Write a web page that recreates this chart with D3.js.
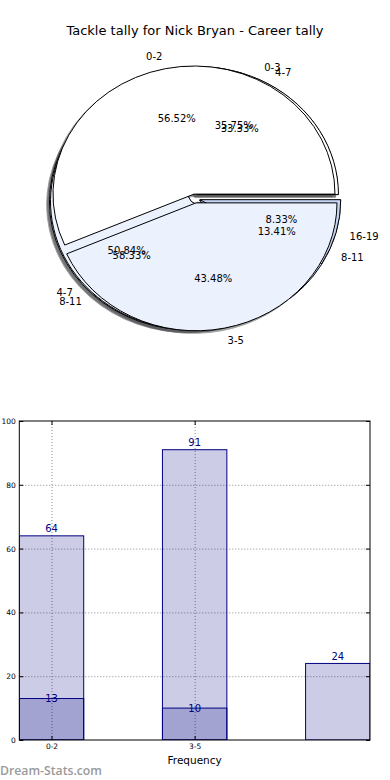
<!DOCTYPE html>
<html><head><meta charset="utf-8">
<script src="https://cdn.jsdelivr.net/npm/d3@7"></script>
<style>
html,body{margin:0;padding:0;background:#fff;}
svg{display:block;font-family:"DejaVu Sans",sans-serif;}
</style></head>
<body>
<script>
// ---- data ----
const title = "Tackle tally for Nick Bryan - Career tally";
// pie layers (drawn bottom to top)
const pieBLabels = ["0-3", "4-7", "8-11"];
const pieBValues = [64, 91, 24];
const pieCLabels = ["4-7", "8-11", "16-19"];
const pieCValues = [4, 7, 1];
const pieALabels = ["0-2", "3-5"];
const pieAValues = [13, 10];
const sliceColors = ["#ffffff", "#ebf1fd", "#c5d5f5"];

// bar chart
const barCategories = ["0-2", "3-5", ""];
const barSeries1 = [64, 91, 24];
const barSeries2 = [13, 10];
const yTicks = [0, 20, 40, 60, 80, 100];
const xLabel = "Frequency";
const watermark = "Dream-Stats.com";

const W = 390, H = 780;
const svg = d3.select("body").append("svg").attr("width", W).attr("height", H);

svg.append("text").attr("x", 195).attr("y", 30).attr("text-anchor", "middle")
  .attr("dominant-baseline", "central").attr("font-size", 13).attr("fill", "#000").text(title);

// ---- pie ----
const cx = 195, cy = 198.5, rx = 141, ry = 128;
const explode = 0.035, shadowOff = 0.02;
const layers = [
  {labels: pieBLabels, values: pieBValues},
  {labels: pieCLabels, values: pieCValues},
  {labels: pieALabels, values: pieAValues}
];
const pieGen = d3.pie().sort(null).startAngle(0).endAngle(2 * Math.PI);
const arcGen = d3.arc().innerRadius(0).outerRadius(1);
layers.forEach(L => {
  L.wedges = pieGen(L.values).map((p, i) => {
    const t1 = p.startAngle, t2 = p.endAngle; // CCW from east
    const tm = (t1 + t2) / 2;
    return {
      i, label: L.labels[i], frac: p.value / d3.sum(L.values),
      d: arcGen({startAngle: Math.PI / 2 - t2, endAngle: Math.PI / 2 - t1}),
      ox: explode * Math.cos(tm), oy: -explode * Math.sin(tm), tm
    };
  });
});
const pg = svg.append("g").attr("transform", `translate(${cx},${cy}) scale(${rx},${ry})`);
// shadows
layers.forEach(L => L.wedges.forEach(w => {
  const c = d3.rgb(sliceColors[w.i]);
  const sc = d3.rgb(c.r * 0.3, c.g * 0.3, c.b * 0.3);
  pg.append("path").attr("d", w.d)
    .attr("transform", `translate(${w.ox - shadowOff},${w.oy + shadowOff})`)
    .attr("fill", sc).attr("stroke", sc).attr("stroke-width", 1)
    .attr("vector-effect", "non-scaling-stroke").attr("opacity", 0.5);
}));
// wedges
layers.forEach(L => L.wedges.forEach(w => {
  pg.append("path").attr("d", w.d)
    .attr("transform", `translate(${w.ox},${w.oy})`)
    .attr("fill", sliceColors[w.i]).attr("stroke", "#000").attr("stroke-width", 1)
    .attr("vector-effect", "non-scaling-stroke");
}));
// texts
layers.forEach(L => L.wedges.forEach(w => {
  const c = Math.cos(w.tm), s = Math.sin(w.tm);
  const lx = cx + (explode + 1.1) * rx * c, ly = cy - (explode + 1.1) * ry * s;
  svg.append("text").attr("x", lx).attr("y", ly)
    .attr("text-anchor", lx > cx ? "start" : "end").attr("dominant-baseline", "central")
    .attr("font-size", 10).attr("fill", "#000").text(w.label);
  const px = cx + (explode + 0.6) * rx * c, py = cy - (explode + 0.6) * ry * s;
  svg.append("text").attr("x", px).attr("y", py)
    .attr("text-anchor", "middle").attr("dominant-baseline", "central")
    .attr("font-size", 10).attr("fill", "#000").text((w.frac * 100).toFixed(2) + "%");
}));

// ---- bar chart ----
const bl = 19.3, br = 370, bt = 421, bb = 740;
const barW = 0.45;
const x = d3.scaleLinear().domain([-barW / 2, barCategories.length - 1 + barW / 2]).range([bl, br]);
const y = d3.scaleLinear().domain([0, 100]).range([bb, bt]);
const xTickIdx = barCategories.map((c, i) => i).filter(i => barCategories[i] !== "");
const bg = svg.append("g");
const navy = "#000080";

// grid
bg.append("g").attr("transform", `translate(0,${bb})`)
  .call(d3.axisBottom(x).tickValues(xTickIdx).tickSize(-(bb - bt)).tickFormat(""))
  .call(g => g.select(".domain").remove())
  .call(g => g.selectAll("line").attr("stroke", "#8a8a8a").attr("stroke-dasharray", "1,2"));
bg.append("g").attr("transform", `translate(${bl},0)`)
  .call(d3.axisLeft(y).tickValues(yTicks.slice(1, -1)).tickSize(-(br - bl)).tickFormat(""))
  .call(g => g.select(".domain").remove())
  .call(g => g.selectAll("line").attr("stroke", "#8a8a8a").attr("stroke-dasharray", "1,2"));

const clip = svg.append("defs").append("clipPath").attr("id", "plotclip")
  .append("rect").attr("x", bl).attr("y", bt).attr("width", br - bl).attr("height", bb - bt);
const bars = bg.append("g").attr("clip-path", "url(#plotclip)");
bars.selectAll("rect.s1").data(barSeries1).join("rect").attr("class", "s1")
  .attr("x", (d, i) => x(i - barW / 2)).attr("width", (d, i) => x(i + barW / 2) - x(i - barW / 2))
  .attr("y", d => y(d)).attr("height", d => y(0) - y(d))
  .attr("fill", navy).attr("fill-opacity", 0.2).attr("stroke", navy).attr("stroke-width", 1);
bars.selectAll("rect.s2").data(barSeries2).join("rect").attr("class", "s2")
  .attr("x", (d, i) => x(i - barW / 2)).attr("width", (d, i) => x(i + barW / 2) - x(i - barW / 2))
  .attr("y", d => y(d)).attr("height", d => y(0) - y(d))
  .attr("fill", navy).attr("fill-opacity", 0.2).attr("stroke", navy).attr("stroke-width", 1);

bg.selectAll("text.v1").data(barSeries1).join("text").attr("class", "v1")
  .attr("x", (d, i) => x(i)).attr("y", d => y(d + 1.2))
  .attr("text-anchor", "middle").attr("font-size", 10).attr("fill", navy).text(d => d);
bg.selectAll("text.v2").data(barSeries2).join("text").attr("class", "v2")
  .attr("x", (d, i) => x(i)).attr("y", d => y(d - 1.1))
  .attr("text-anchor", "middle").attr("font-size", 10).attr("fill", navy).text(d => d);

// axes with inward ticks
const axL = bg.append("g").attr("transform", `translate(${bl},0)`)
  .call(d3.axisLeft(y).tickValues(yTicks).tickSize(-4).tickPadding(3.5));
const axR = bg.append("g").attr("transform", `translate(${br},0)`)
  .call(d3.axisRight(y).tickValues(yTicks).tickSize(-4).tickFormat(""));
const axB = bg.append("g").attr("transform", `translate(0,${bb})`)
  .call(d3.axisBottom(x).tickValues(xTickIdx).tickFormat(i => barCategories[i]).tickSize(-4).tickPadding(4));
const axT = bg.append("g").attr("transform", `translate(0,${bt})`)
  .call(d3.axisTop(x).tickValues(xTickIdx).tickSize(-4).tickFormat(""));
[axL, axR, axB, axT].forEach(a => {
  a.select(".domain").remove();
  a.selectAll("text").attr("font-size", 7.5).attr("fill", "#000").attr("font-family", "DejaVu Sans");
  a.selectAll("line").attr("stroke", "#000");
});
bg.append("rect").attr("x", bl).attr("y", bt).attr("width", br - bl).attr("height", bb - bt)
  .attr("fill", "none").attr("stroke", "#000").attr("stroke-width", 1);

svg.append("text").attr("x", (bl + br) / 2).attr("y", 760).attr("text-anchor", "middle")
  .attr("dominant-baseline", "central").attr("font-size", 10.5).attr("fill", "#000").text(xLabel);

svg.append("text").attr("x", 0).attr("y", 775).attr("font-family", "'Open Sans',sans-serif")
  .attr("font-weight", 600).attr("font-size", 13).attr("fill", "#9a9a9a")
  .attr("textLength", 102).attr("lengthAdjust", "spacingAndGlyphs").text(watermark);
</script>
</body></html>
